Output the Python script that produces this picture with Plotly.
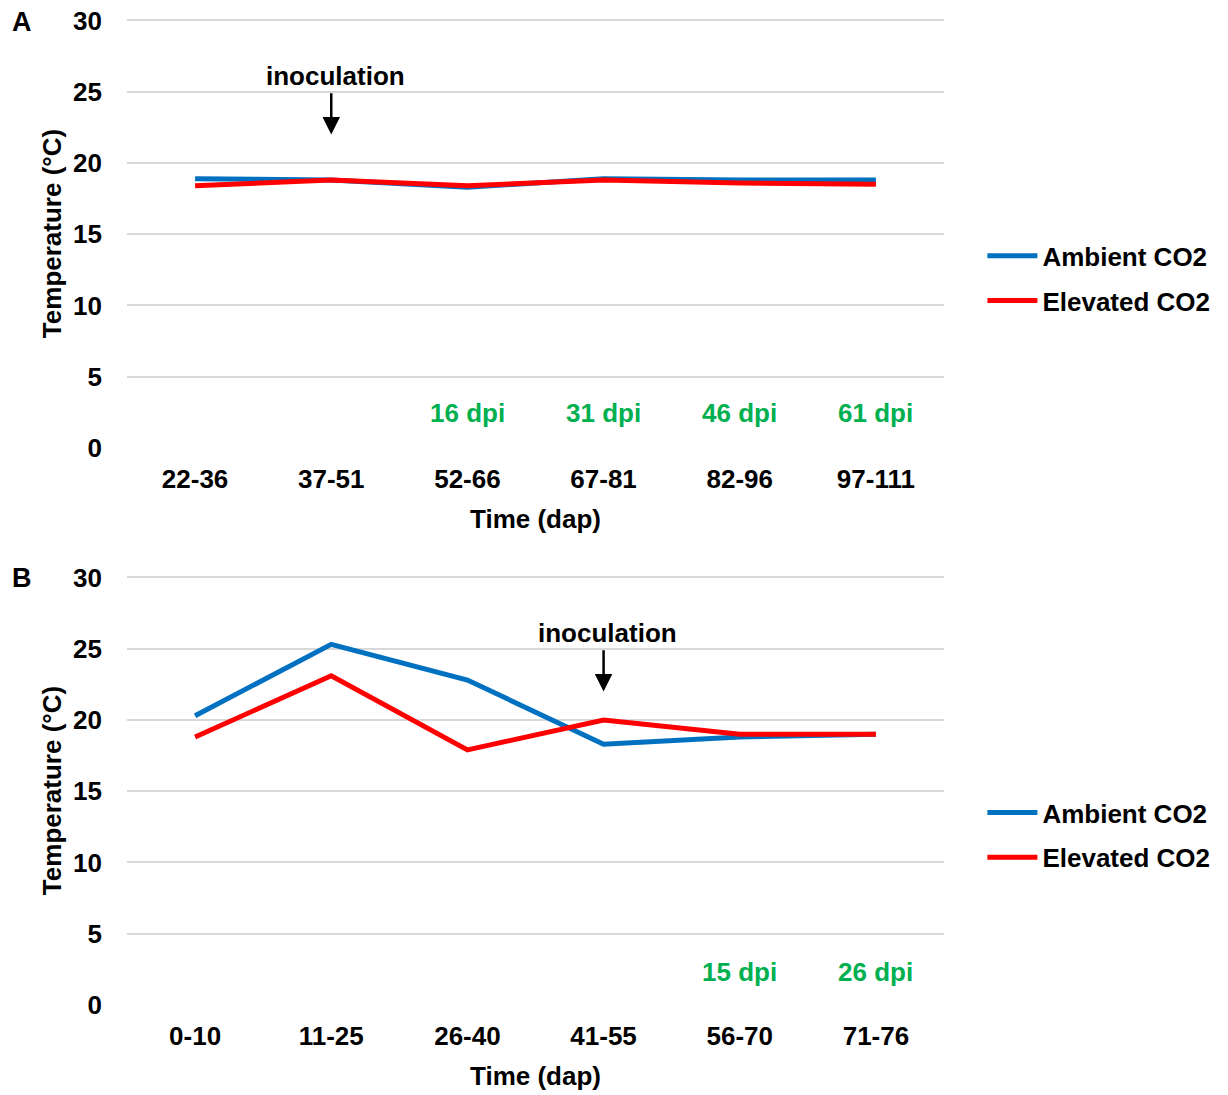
import plotly.graph_objects as go
from plotly.subplots import make_subplots

cats_a = ["22-36", "37-51", "52-66", "67-81", "82-96", "97-111"]
ambient_a = [18.9, 18.8, 18.3, 18.9, 18.8, 18.8]
elevated_a = [18.4, 18.8, 18.4, 18.8, 18.6, 18.5]
dpi_a_cats = ["52-66", "67-81", "82-96", "97-111"]
dpi_a_text = ["16 dpi", "31 dpi", "46 dpi", "61 dpi"]

cats_b = ["0-10", "11-25", "26-40", "41-55", "56-70", "71-76"]
ambient_b = [20.3, 25.3, 22.8, 18.3, 18.8, 19.0]
elevated_b = [18.8, 23.1, 17.9, 20.0, 19.0, 19.0]
dpi_b_cats = ["56-70", "71-76"]
dpi_b_text = ["15 dpi", "26 dpi"]

yticks = [0, 5, 10, 15, 20, 25, 30]

BLUE = "#0070C0"
RED = "#FF0000"
GREEN = "#00B050"
FS = 26

fig = make_subplots(rows=2, cols=1, vertical_spacing=0.1298)

fig.add_trace(go.Scatter(x=cats_a, y=ambient_a, mode="lines", name="Ambient CO2",
                         line=dict(color=BLUE, width=5), legend="legend", legendgroup="a1"), row=1, col=1)
fig.add_trace(go.Scatter(x=cats_a, y=elevated_a, mode="lines", name="Elevated CO2",
                         line=dict(color=RED, width=5), legend="legend", legendgroup="a2"), row=1, col=1)
fig.add_trace(go.Scatter(x=cats_b, y=ambient_b, mode="lines", name="Ambient CO2",
                         line=dict(color=BLUE, width=5), legend="legend2", legendgroup="b1"), row=2, col=1)
fig.add_trace(go.Scatter(x=cats_b, y=elevated_b, mode="lines", name="Elevated CO2",
                         line=dict(color=RED, width=5), legend="legend2", legendgroup="b2"), row=2, col=1)

for r in (1, 2):
    fig.update_yaxes(range=[0, 30.1], tickvals=yticks, gridcolor="#D9D9D9", gridwidth=2,
                     showline=False, zeroline=False, showgrid=True, automargin=False,
                     ticklabelstandoff=24,
                     title=dict(text="Temperature (°C)", standoff=3, font=dict(size=FS)),
                     row=r, col=1)
    fig.update_xaxes(range=[-0.5, 5.5], showgrid=False, ticklabelstandoff=13, automargin=False,
                     title=dict(text="Time (dap)", standoff=16, font=dict(size=FS)),
                     row=r, col=1, showline=False, zeroline=False)

fig.update_layout(
    width=1228, height=1095,
    margin=dict(l=127, r=284, t=19, b=90),
    plot_bgcolor="white", paper_bgcolor="white",
    font=dict(family="Liberation Sans, Arial", size=FS, color="black", weight="bold"),
    legend=dict(x=1.047, y=0.737, xanchor="left", yanchor="middle", font=dict(size=FS),
                itemwidth=50, tracegroupgap=8, bgcolor="rgba(0,0,0,0)"),
    legend2=dict(x=1.047, y=0.1724, xanchor="left", yanchor="middle", font=dict(size=FS),
                 itemwidth=50, tracegroupgap=8, bgcolor="rgba(0,0,0,0)"),
)

annotations = []
for xref, yref, cat in (("x", "y", "37-51"), ("x2", "y2", "41-55")):
    annotations.append(dict(x=cat, y=22.0, ax=cat, ay=25.0, xref=xref, yref=yref,
                            axref=xref, ayref=yref, text="", showarrow=True,
                            arrowhead=2, arrowsize=1.4, arrowwidth=2.5, arrowcolor="black"))
    annotations.append(dict(x=cat, y=26.1, xref=xref, yref=yref, text="inoculation",
                            showarrow=False, xshift=4, font=dict(size=FS, color="black")))
for c, t in zip(dpi_a_cats, dpi_a_text):
    annotations.append(dict(x=c, y=2.45, xref="x", yref="y", text=t, showarrow=False,
                            font=dict(size=FS, color=GREEN)))
for c, t in zip(dpi_b_cats, dpi_b_text):
    annotations.append(dict(x=c, y=2.3, xref="x2", yref="y2", text=t, showarrow=False,
                            font=dict(size=FS, color=GREEN)))
annotations.append(dict(x=-0.128, y=0.997, xref="paper", yref="paper", text="A", showarrow=False,
                        xanchor="center", yanchor="middle", font=dict(size=27, color="black")))
annotations.append(dict(x=-0.128, y=0.4331, xref="paper", yref="paper", text="B", showarrow=False,
                        xanchor="center", yanchor="middle", font=dict(size=27, color="black")))
fig.update_layout(annotations=annotations)

fig.write_html("out.html")
